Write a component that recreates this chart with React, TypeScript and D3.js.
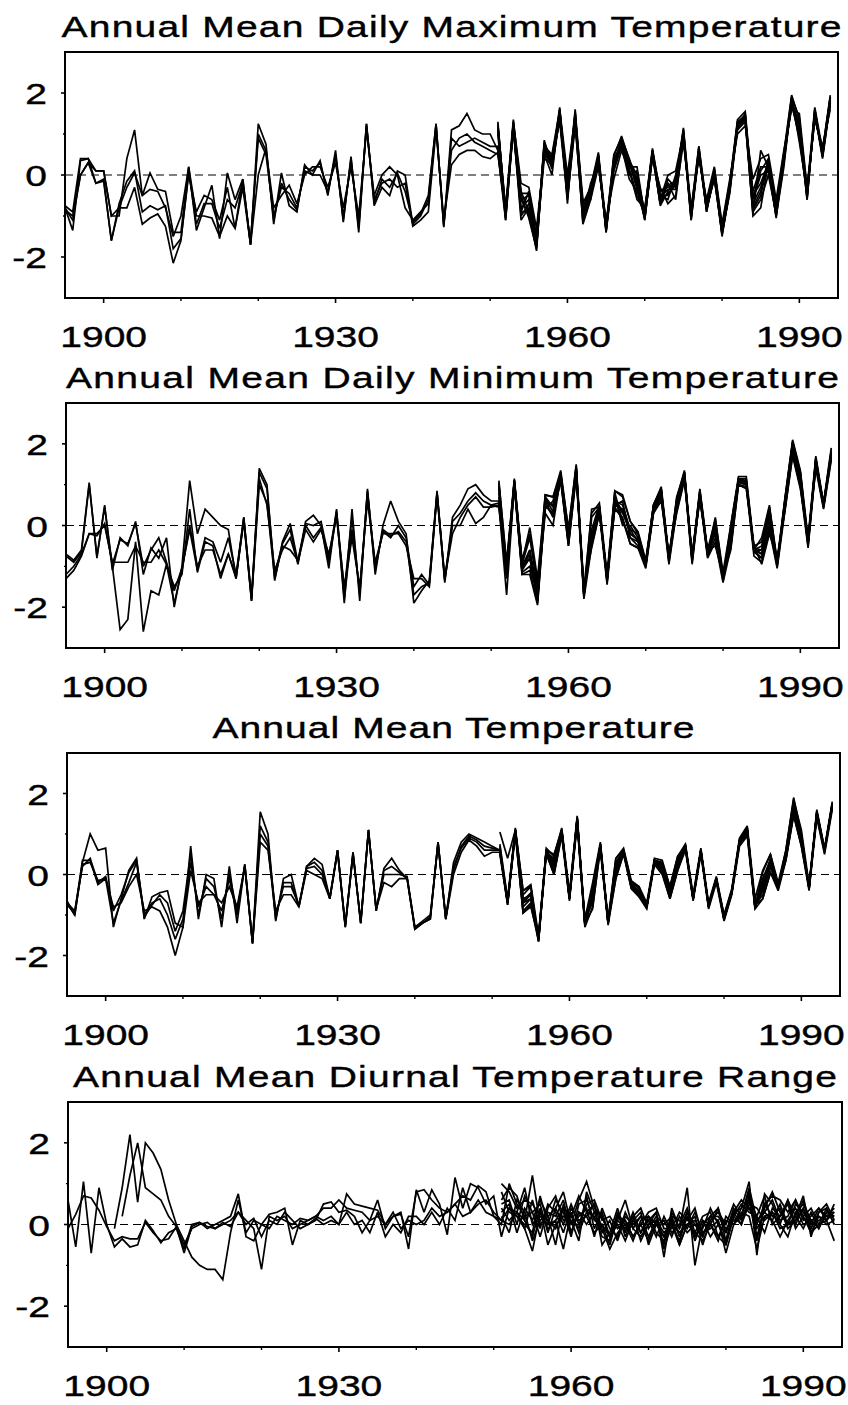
import * as d3 from "d3";

// years on the x axis
const FIRST_YEAR = 1895;
const LATE_START = 1951;
const X_DOMAIN = [1895, 1995];
const Y_DOMAIN = [-3, 3];
const X_TICKS = [1900, 1930, 1960, 1990];
const X_MINOR = [1910, 1920, 1940, 1950, 1970, 1980];
const Y_TICKS = [-2, 0, 2];
const Y_MINOR = [-1, 1];

const TITLES = [
  "Annual Mean Daily Maximum Temperature",
  "Annual Mean Daily Minimum Temperature",
  "Annual Mean Temperature",
  "Annual Mean Diurnal Temperature Range",
];

// ---- Daily maximum (1895-1994 long records, 1951-1994 short records)
const tmaxA = [
  -0.75, -0.9, 0.4, 0.4, 0.1, 0.1, -1.0, -1.0, 0.4, 1.1,
  -0.5, 0.05, -0.35, -0.4, -1.4, -1.4, 0.2, -1.35, -0.8, -0.25,
  -1.55, 0.05, -0.6, -0.1, -1.7, 1.25, 0.75, -1.2, 0.05, -0.75,
  -0.9, 0.25, 0.0, 0.35, -0.5, 0.6, -1.15, 0.45, -1.4, 1.25,
  -0.75, -0.3, -0.5, 0.1, 0.0, -1.2, -1.0, -0.6, 1.25, -1.25,
  1.1, 1.2, 1.5, 1.1, 1.0, 1.0, 0.6, -1.0, 1.3, -0.4,
  -0.9, -1.85, 0.8, 0.3, 1.65, -0.7, 1.55, -1.2, -0.6, 0.5,
  -1.4, 0.5, 0.9, 0.3, -0.1, -1.1, 0.6, -0.7, -0.1, -0.3,
  1.1, -1.1, 0.65, -0.9, 0.1, -1.5, -0.35, 1.3, 1.45, -1.0,
  -0.8, 0.3, -1.05, 0.5, 1.9, 1.4, -0.6, 1.6, 0.45, 1.85,
];
const tmaxB = [
  -0.8, -1.35, 0.35, 0.4, -0.2, -0.15, -1.6, -0.7, -0.15, 0.1,
  -0.9, -0.75, -0.85, -0.75, -1.8, -1.55, 0.0, -0.9, -0.5, -0.6,
  -1.1, -0.3, -1.3, -0.3, -1.7, 1.0, 0.6, -0.8, -0.5, -0.25,
  -0.7, 0.0, 0.2, 0.2, -0.3, 0.3, -0.8, 0.2, -1.0, 1.1,
  -0.5, 0.0, 0.2, 0.0, -0.8, -1.1, -0.9, -0.7, 1.2, -1.2,
  0.6, 0.9, 1.0, 0.8, 0.7, 0.6, 0.5, -0.9, 1.2, -0.9,
  -0.4, -1.5, 0.6, 0.45, 1.5, -0.4, 1.4, -0.9, -0.4, 0.35,
  -1.3, 0.2, 0.8, 0.15, -0.5, -0.95, 0.5, -0.5, -0.6, 0.0,
  0.9, -0.9, 0.5, -0.7, 0.0, -1.4, -0.2, 1.1, 1.3, -0.4,
  0.2, 0.2, -0.8, 0.4, 1.7, 1.0, -0.4, 1.4, 0.6, 1.7,
];
const tmaxC = [
  -0.85, -1.0, 0.0, 0.3, 0.1, 0.1, -1.0, -0.8, -0.8, -0.3,
  -1.2, -1.05, -0.95, -1.25, -2.15, -1.6, 0.1, -1.2, -0.7, -0.7,
  -1.3, -0.6, -0.8, -0.2, -1.65, 0.9, 0.5, -1.0, -0.3, -0.45,
  -0.8, 0.1, 0.0, 0.0, -0.4, 0.45, -1.0, 0.3, -1.2, 1.2,
  -0.6, -0.2, -0.1, -0.3, -0.2, -1.25, -1.1, -0.9, 1.1, -1.1,
  0.25, 0.5, 0.6, 0.6, 0.45, 0.4, 0.55, -1.1, 1.15, -1.1,
  -0.8, -1.6, 0.7, 0.15, 1.4, -0.5, 1.5, -1.0, -0.5, 0.3,
  -1.2, 0.1, 0.7, 0.0, 0.1, -1.05, 0.45, -0.4, -0.3, -0.2,
  1.0, -1.0, 0.6, -0.8, 0.15, -1.3, -0.3, 1.2, 1.5, -0.8,
  -0.4, 0.4, -0.9, 0.45, 1.8, 1.2, -0.5, 1.5, 0.5, 1.8,
];
const tmaxD = [
  -0.8, -1.1, 0.0, 0.3, -0.2, -0.1, -1.6, -0.8, -0.3, 0.05,
  -0.5, -0.35, -0.4, -0.8, -1.5, -1.0, 0.2, -1.0, -1.0, -1.05,
  -1.5, -1.0, -1.3, -0.1, -1.7, 0.0, 0.65, -1.1, -0.2, -0.6,
  -0.85, 0.2, 0.1, 0.3, -0.45, 0.5, -1.1, 0.4, -1.3, 1.25,
  -0.7, -0.1, -0.3, 0.05, -0.4, -1.15, -0.95, -0.5, 1.25, -1.27,
  0.9, 0.7, 0.8, 0.9, 0.8, 0.7, 0.7, -0.95, 1.25, -0.6,
  -1.0, -1.75, 0.85, 0.2, 1.55, -0.3, 1.3, -0.7, -0.3, 0.45,
  -1.35, 0.3, 0.85, 0.35, -0.3, -0.9, 0.6, -0.75, -0.4, -0.1,
  1.05, -0.95, 0.55, -0.85, -0.05, -1.45, -0.4, 1.25, 1.4, -0.6,
  0.0, 0.1, -1.0, 0.3, 1.75, 0.9, -0.45, 1.55, 0.55, 1.9,
];
const tmaxE = [
  1.3, -1.05, 1.3, -0.2, -0.3, -1.3, 0.5, 0.0, 1.6, 0.0,
  1.45, -0.6, -0.6, 0.2, -1.1, -0.1, 0.6, 0.1, -0.6, -0.8,
  0.4, -0.3, -0.7, -0.5, 0.8, -0.8, 0.4, -0.6, 0.2, -1.2,
  -0.1, 1.0, 1.2, -0.1, 0.4, 0.5, -0.6, 0.6, 1.6, 1.5,
  -0.3, 1.35, 0.7, 1.6,
];
const tmaxF = [
  1.2, -0.85, 1.1, -0.8, -0.6, -1.7, 0.75, 0.4, 1.3, -0.6,
  1.35, -1.1, -0.35, 0.4, -1.25, 0.35, 0.75, 0.2, 0.2, -1.0,
  0.55, -0.6, 0.0, 0.1, 1.0, -1.05, 0.6, -0.8, -0.1, -1.35,
  -0.3, 1.2, 1.35, -0.9, -0.6, 0.0, -0.95, 0.35, 1.85, 1.0,
  -0.55, 1.5, 0.4, 1.75,
];
const tmaxG = [
  1.1, -1.0, 1.2, -0.5, -1.05, -1.8, 0.65, 0.35, 1.5, -0.2,
  1.5, -0.85, -0.5, 0.5, -1.4, 0.2, 0.9, 0.4, -0.2, -1.1,
  0.5, -0.7, -0.2, -0.6, 0.9, -0.9, 0.7, -0.9, 0.05, -1.4,
  -0.45, 1.15, 1.45, -0.5, -0.2, 0.3, -0.7, 0.5, 1.7, 1.3,
  -0.5, 1.6, 0.5, 1.85,
];
const tmaxH = [
  1.25, -0.9, 1.25, -1.0, -0.7, -1.55, 0.4, 0.25, 1.45, -0.55,
  1.2, -1.0, -0.2, 0.3, -1.3, 0.4, 0.7, -0.1, -0.4, -0.85,
  0.65, -0.5, -0.5, -0.2, 1.1, -1.0, 0.5, -0.7, 0.0, -1.3,
  -0.2, 1.3, 1.3, -0.95, 0.6, 0.2, -1.0, 0.2, 1.9, 0.8,
  -0.4, 1.4, 0.6, 1.95,
];
const tmaxI = [
  1.15, -0.95, 1.2, -0.6, -0.5, -1.65, 0.6, 0.3, 1.55, -0.4,
  1.4, -0.95, -0.45, 0.45, -1.3, 0.3, 0.8, 0.25, -0.1, -1.0,
  0.55, -0.55, -0.35, -0.35, 1.0, -0.95, 0.55, -0.8, 0.05, -1.4,
  -0.3, 1.25, 1.4, -0.7, -0.3, 0.25, -0.85, 0.45, 1.8, 1.1,
  -0.5, 1.5, 0.5, 1.8,
];
const tmaxJ = [
  1.0, -1.1, 1.15, -0.9, -0.9, -1.75, 0.55, 0.2, 1.4, -0.45,
  1.3, -1.15, -0.55, 0.35, -1.35, 0.15, 0.85, 0.3, -0.35, -1.05,
  0.45, -0.65, -0.45, -0.25, 0.95, -1.1, 0.5, -0.85, -0.05, -1.45,
  -0.35, 1.15, 1.35, -0.85, -0.5, 0.35, -0.9, 0.4, 1.75, 1.2,
  -0.6, 1.55, 0.45, 1.75,
];
const tmaxK = [
  1.2, -0.8, 1.35, -0.45, -0.45, -1.6, 0.7, 0.5, 1.6, -0.35,
  1.6, -0.8, -0.3, 0.55, -1.2, 0.45, 0.95, 0.35, 0.0, -0.9,
  0.6, -0.4, -0.25, -0.15, 1.15, -0.85, 0.7, -0.7, 0.15, -1.25,
  -0.2, 1.35, 1.55, -0.55, 0.1, 0.4, -0.75, 0.55, 1.95, 1.35,
  -0.35, 1.65, 0.6, 1.9,
];

// ---- Daily minimum
const tminA = [
  -0.7, -0.85, -0.6, 1.05, -0.8, 0.5, -1.1, -0.3, -0.5, 0.1,
  -1.2, -0.55, -0.8, -0.3, -2.0, -1.0, 1.1, -0.2, 0.4, 0.2,
  0.0, -0.1, -1.3, 0.2, -1.85, 1.4, 1.0, -1.35, -0.4, 0.05,
  -0.9, 0.1, 0.25, 0.0, -1.05, 0.4, -1.9, 0.4, -1.85, 0.9,
  -1.2, 0.0, 0.6, 0.1, -0.2, -1.9, -1.6, -1.35, 0.85, -1.35,
  0.2, 0.5, 0.9, 1.0, 0.75, 0.6, 0.6, -1.0, 1.1, -0.9,
  -0.05, -1.3, 0.75, 0.7, 1.25, -0.1, 1.45, -1.75, 0.4, 0.45,
  -1.35, 0.85, 0.75, 0.1, -0.2, -0.95, 0.5, 0.9, -0.85, 0.7,
  1.3, -0.85, 0.85, -0.7, 0.2, -1.3, 0.0, 1.15, 1.1, -0.6,
  -0.3, 0.5, -0.95, 0.65, 2.05, 1.3, -0.45, 1.65, 0.5, 1.8,
];
const tminB = [
  -1.3, -1.1, -0.75, -0.2, -0.2, 0.0, -0.9, -0.9, -0.9, -0.5,
  -0.9, -0.9, -0.6, -0.95, -1.5, -1.2, 0.4, -1.15, -0.4, -0.5,
  -1.3, -0.7, -1.3, 0.15, -1.8, 1.15, 0.5, -1.1, -0.6, -0.3,
  -0.9, -0.1, -0.4, -0.1, -0.7, 0.2, -1.5, -0.3, -1.5, 0.6,
  -0.9, -0.2, -0.2, -0.2, -0.5, -1.3, -1.3, -1.5, 0.8, -1.3,
  -0.2, 0.2, 0.5, 0.7, 0.45, 0.45, 0.5, -1.7, 1.0, -1.2,
  -1.2, -1.95, 0.5, 0.3, 1.1, -0.5, 1.2, -1.5, -0.55, 0.3,
  -1.2, 0.4, 0.2, -0.45, -0.55, -0.9, 0.3, 0.6, -0.7, 0.3,
  1.1, -0.7, 0.6, -0.6, -0.5, -1.2, -0.6, 1.0, 0.9, -0.5,
  -0.95, -0.2, -0.8, 0.35, 1.7, 0.9, -0.3, 1.4, 0.4, 1.6,
];
const tminC = [
  -0.75, -0.9, -0.65, 1.0, -0.75, 0.45, -1.0, -2.55, -2.3, -0.4,
  -2.6, -1.6, -1.7, -0.95, -1.9, -1.1, 0.0, -1.0, -0.6, -0.6,
  -1.2, -0.7, -1.25, 0.1, -1.85, 1.0, 0.55, -1.3, -0.5, -0.6,
  -0.85, 0.0, -0.3, -0.05, -0.9, 0.3, -1.8, -0.1, -1.6, 0.8,
  -1.1, -0.1, -0.25, -0.15, -0.4, -1.7, -1.5, -1.4, 0.8, -1.3,
  0.0, 0.0, 0.4, 0.05, 0.2, 0.5, 0.55, -1.2, 1.05, -1.05,
  -0.6, -1.6, 0.3, 0.0, 1.2, -0.4, 1.3, -1.6, -0.3, 0.4,
  -1.3, 0.5, 0.4, -0.2, -0.35, -1.0, 0.4, 0.7, -0.75, 0.5,
  1.2, -0.8, 0.75, -0.65, -0.2, -1.25, -0.3, 1.1, 1.0, -0.55,
  -0.6, 0.1, -0.9, 0.5, 1.9, 1.1, -0.4, 1.5, 0.45, 1.7,
];
const tminD = [
  -1.2, -1.0, -0.7, -0.2, -0.25, 0.05, -0.95, -0.35, -0.45, 0.05,
  -1.0, -0.6, -0.3, -0.9, -1.6, -1.05, -0.1, -1.1, -0.3, -0.4,
  -0.9, -0.3, -1.2, 0.2, -1.75, 1.3, 0.9, -1.2, -0.45, -0.1,
  -0.95, 0.05, 0.0, 0.1, -0.8, 0.35, -1.6, 0.2, -1.7, 0.85,
  -1.0, -0.15, -0.3, 0.0, -0.3, -1.5, -1.2, -1.45, 0.75, -1.4,
  0.1, 0.3, 0.6, 0.8, 0.6, 0.5, 0.45, -1.1, 1.1, -1.0,
  -0.8, -1.8, 0.6, 0.5, 1.2, -0.3, 1.4, -1.7, -0.4, 0.35,
  -1.3, 0.6, 0.5, -0.1, -0.4, -0.9, 0.45, 0.8, -0.8, 0.6,
  1.25, -0.75, 0.8, -0.7, -0.1, -1.3, -0.2, 1.1, 1.05, -0.6,
  -0.8, 0.3, -0.9, 0.55, 2.0, 1.2, -0.45, 1.6, 0.5, 1.75,
];
const tminE = [
  1.1, -1.0, 1.1, -0.95, -0.3, -1.5, 0.4, 0.6, 1.3, -0.3,
  1.45, -1.7, -0.1, 0.5, -1.35, 0.7, 0.0, 0.0, -0.3, -0.95,
  0.4, 0.85, -0.8, 0.5, 1.3, -0.8, 0.7, -0.7, 0.0, -1.25,
  -0.1, 1.15, 1.15, -0.6, -0.5, 0.4, -0.95, 0.6, 2.0, 1.3,
  -0.4, 1.6, 0.5, 1.85,
];
const tminF = [
  0.8, -1.2, 1.0, -1.1, -0.8, -1.7, 0.6, 0.2, 1.2, -0.45,
  1.35, -1.6, -0.4, 0.4, -1.3, 0.5, 0.6, -0.3, -0.5, -1.0,
  0.35, 0.75, -0.9, 0.4, 1.2, -0.9, 0.75, -0.75, -0.3, -1.35,
  -0.4, 1.05, 1.0, -0.65, -0.8, 0.0, -1.0, 0.45, 1.8, 1.0,
  -0.5, 1.5, 0.55, 1.75,
];
const tminG = [
  0.9, -1.1, 1.1, -1.0, -0.6, -1.85, 0.7, 0.45, 1.25, -0.2,
  1.4, -1.75, 0.2, 0.45, -1.4, 0.6, 0.3, -0.1, -0.2, -0.9,
  0.5, 0.9, -0.85, 0.6, 1.3, -0.85, 0.8, -0.7, 0.1, -1.3,
  -0.3, 1.15, 1.05, -0.55, -0.7, 0.2, -0.95, 0.6, 2.05, 1.2,
  -0.45, 1.65, 0.45, 1.8,
];
const tminH = [
  1.0, -1.3, 1.05, -1.15, -1.0, -1.7, 0.55, 0.5, 1.15, -0.4,
  1.3, -1.65, -0.2, 0.35, -1.25, 0.8, 0.1, -0.3, -0.4, -0.95,
  0.45, 0.8, -0.8, 0.45, 1.25, -0.8, 0.85, -0.65, -0.1, -1.2,
  -0.5, 1.1, 1.1, -0.65, -0.6, 0.3, -0.9, 0.4, 1.9, 1.15,
  -0.35, 1.55, 0.55, 1.7,
];
const tminI = [
  0.95, -1.15, 1.0, -1.05, -0.7, -1.75, 0.65, 0.35, 1.2, -0.3,
  1.4, -1.7, -0.25, 0.4, -1.35, 0.65, 0.35, -0.2, -0.35, -0.95,
  0.4, 0.85, -0.85, 0.55, 1.25, -0.85, 0.8, -0.7, -0.15, -1.3,
  -0.35, 1.1, 1.05, -0.6, -0.7, 0.15, -0.95, 0.5, 1.95, 1.2,
  -0.45, 1.6, 0.5, 1.75,
];
const tminJ = [
  0.7, -1.25, 0.95, -1.2, -1.1, -1.9, 0.5, 0.25, 1.1, -0.5,
  1.25, -1.8, -0.5, 0.3, -1.45, 0.45, 0.15, -0.45, -0.55, -1.05,
  0.3, 0.7, -0.95, 0.35, 1.15, -0.95, 0.7, -0.8, -0.4, -1.4,
  -0.55, 1.0, 0.95, -0.75, -0.9, -0.1, -1.05, 0.35, 1.75, 0.95,
  -0.55, 1.45, 0.45, 1.65,
];
const tminK = [
  1.05, -0.9, 1.15, -0.85, -0.2, -1.45, 0.75, 0.7, 1.35, -0.1,
  1.5, -1.55, 0.3, 0.55, -1.2, 0.85, 0.7, 0.1, -0.15, -0.85,
  0.5, 0.95, -0.75, 0.65, 1.35, -0.75, 0.9, -0.6, 0.15, -1.15,
  0.0, 1.2, 1.2, -0.5, -0.4, 0.45, -0.85, 0.65, 2.1, 1.35,
  -0.3, 1.7, 0.55, 1.9,
];

// ---- Mean temperature
const tavgA = [
  -0.7, -1.0, 0.3, 1.0, 0.6, 0.65, -1.3, -0.6, 0.1, 0.4,
  -1.1, -0.55, -0.45, -0.4, -1.2, -1.3, 0.7, -1.1, 0.0, -0.1,
  -1.3, 0.2, -1.2, 0.25, -1.7, 1.55, 1.0, -1.15, -0.1, 0.0,
  -0.8, 0.2, 0.4, 0.25, -0.6, 0.6, -1.3, 0.55, -1.2, 1.1,
  -0.9, 0.15, 0.4, 0.1, -0.1, -1.35, -1.2, -1.1, 0.8, -1.1,
  0.3, 0.8, 1.0, 0.9, 0.8, 0.7, 0.6, -0.7, 1.1, -0.4,
  -0.3, -1.65, 0.6, 0.5, 1.1, -0.6, 1.4, -1.25, -0.3, 0.75,
  -1.2, 0.4, 0.6, -0.2, -0.3, -0.8, 0.35, 0.3, -0.3, 0.45,
  0.7, -0.6, 0.6, -0.8, -0.1, -1.1, -0.45, 0.85, 1.15, -0.8,
  0.05, 0.5, -0.3, 0.6, 1.9, 1.0, -0.35, 1.55, 0.6, 1.75,
];
const tavgB = [
  -0.75, -0.95, 0.35, 0.35, -0.25, -0.1, -0.8, -0.7, -0.3, 0.0,
  -0.9, -0.8, -0.9, -1.3, -2.0, -1.3, 0.1, -0.7, -0.5, -0.5,
  -0.7, -0.3, -0.8, 0.2, -1.7, 0.8, 0.6, -0.9, -0.5, -0.5,
  -0.8, 0.1, 0.0, -0.1, -0.6, 0.55, -1.25, 0.5, -1.2, 1.05,
  -0.85, -0.2, -0.3, -0.1, -0.1, -1.3, -1.15, -1.0, 0.75, -1.1,
  0.0, 0.55, 0.85, 0.7, 0.45, 0.55, 0.55, -0.65, 1.05, -0.95,
  -0.8, -1.55, 0.55, 0.0, 1.0, -0.55, 1.35, -1.2, -0.85, 0.7,
  -1.15, -0.1, 0.55, -0.35, -0.55, -0.8, 0.3, 0.05, -0.6, 0.1,
  0.7, -0.6, 0.55, -0.75, -0.1, -1.05, -0.4, 0.8, 1.05, -0.75,
  -0.6, 0.05, -0.3, 0.35, 1.5, 0.7, -0.3, 1.5, 0.6, 1.7,
];
const tavgC = [
  -0.7, -0.9, 0.2, 0.4, -0.2, -0.05, -0.9, -0.5, 0.05, 0.35,
  -1.0, -0.7, -0.6, -1.0, -1.6, -1.1, 0.3, -0.8, -0.3, -0.5,
  -0.9, -0.1, -1.0, 0.25, -1.65, 1.2, 0.8, -1.0, -0.3, -0.3,
  -0.75, 0.15, 0.2, 0.0, -0.55, 0.6, -1.3, 0.5, -1.15, 1.1,
  -0.85, 0.0, 0.0, 0.0, -0.05, -1.3, -1.2, -1.05, 0.8, -1.05,
  0.2, 0.65, 0.9, 0.8, 0.6, 0.6, 0.6, -0.7, 1.1, -0.7,
  -0.6, -1.6, 0.6, 0.3, 1.05, -0.6, 1.4, -1.2, -0.6, 0.7,
  -1.2, 0.1, 0.6, -0.25, -0.4, -0.8, 0.35, 0.2, -0.45, 0.3,
  0.75, -0.6, 0.6, -0.8, -0.1, -1.1, -0.45, 0.85, 1.1, -0.8,
  -0.3, 0.3, -0.3, 0.45, 1.7, 0.85, -0.35, 1.55, 0.6, 1.75,
];
const tavgD = [
  -0.65, -1.0, 0.25, 0.3, -0.15, -0.1, -1.2, -0.65, -0.2, 0.3,
  -1.05, -0.75, -0.5, -0.7, -1.4, -0.9, 0.5, -1.0, -0.1, -0.3,
  -1.1, 0.0, -0.9, 0.2, -1.7, 1.0, 0.7, -1.1, -0.2, -0.2,
  -0.8, 0.2, 0.3, 0.1, -0.6, 0.6, -1.25, 0.55, -1.2, 1.1,
  -0.9, 0.1, 0.2, 0.05, -0.1, -1.35, -1.2, -1.1, 0.8, -1.1,
  0.1, 0.7, 0.95, 0.85, 0.7, 0.65, 0.6, -0.7, 1.1, -0.6,
  -0.5, -1.65, 0.6, 0.2, 1.1, -0.6, 1.4, -1.25, -0.5, 0.75,
  -1.2, 0.2, 0.6, -0.3, -0.5, -0.8, 0.35, 0.1, -0.5, 0.2,
  0.7, -0.6, 0.6, -0.8, -0.1, -1.1, -0.45, 0.8, 1.1, -0.8,
  -0.4, 0.2, -0.35, 0.4, 1.6, 0.8, -0.35, 1.5, 0.6, 1.7,
];
const tavgE = [
  1.05, 0.4, 1.1, -0.7, -0.5, -1.6, 0.6, 0.1, 1.05, -0.55,
  1.35, -1.2, -0.4, 0.7, -1.15, 0.3, 0.6, -0.3, -0.4, -0.8,
  0.35, 0.25, -0.55, 0.2, 0.7, -0.6, 0.6, -0.8, -0.1, -1.1,
  -0.45, 0.8, 1.1, -0.75, -0.5, 0.2, -0.3, 0.5, 1.7, 0.9,
  -0.3, 1.5, 0.6, 1.7,
];
const tavgF = [
  0.6, -0.7, 1.05, -0.9, -0.7, -1.5, 0.55, 0.4, 1.1, -0.6,
  1.3, -1.1, -0.7, 0.75, -1.2, 0.0, 0.55, -0.25, -0.5, -0.75,
  0.3, 0.15, -0.4, 0.35, 0.65, -0.55, 0.55, -0.75, -0.15, -1.0,
  -0.4, 0.75, 1.0, -0.8, -0.2, 0.4, -0.25, 0.4, 1.5, 0.75,
  -0.3, 1.45, 0.55, 1.65,
];
const tavgG = [
  0.65, -0.75, 1.1, -0.5, -0.3, -1.6, 0.6, 0.2, 1.1, -0.6,
  1.4, -1.25, -0.3, 0.7, -1.2, 0.2, 0.6, -0.2, -0.35, -0.8,
  0.35, 0.3, -0.35, 0.4, 0.7, -0.6, 0.6, -0.8, -0.1, -1.1,
  -0.45, 0.85, 1.15, -0.8, -0.1, 0.35, -0.3, 0.55, 1.8, 1.0,
  -0.35, 1.55, 0.6, 1.75,
];
const tavgH = [
  0.55, -0.7, 1.05, -0.8, -0.6, -1.55, 0.5, 0.35, 1.0, -0.5,
  1.3, -1.2, -0.5, 0.65, -1.15, 0.25, 0.55, -0.3, -0.45, -0.75,
  0.3, 0.2, -0.5, 0.3, 0.65, -0.55, 0.55, -0.75, -0.1, -1.05,
  -0.4, 0.8, 1.1, -0.7, -0.3, 0.25, -0.3, 0.45, 1.6, 0.85,
  -0.3, 1.5, 0.6, 1.7,
];
const tavgI = [
  0.7, -0.65, 1.1, -0.65, -0.45, -1.6, 0.6, 0.3, 1.1, -0.55,
  1.4, -1.2, -0.5, 0.7, -1.2, 0.15, 0.6, -0.25, -0.4, -0.8,
  0.35, 0.25, -0.45, 0.3, 0.7, -0.6, 0.6, -0.8, -0.1, -1.1,
  -0.45, 0.85, 1.1, -0.75, -0.35, 0.3, -0.3, 0.5, 1.75, 0.95,
  -0.35, 1.55, 0.6, 1.75,
];
const tavgJ = [
  0.5, -0.75, 1.0, -0.95, -0.75, -1.65, 0.5, 0.0, 0.95, -0.65,
  1.25, -1.3, -0.8, 0.6, -1.25, -0.1, 0.5, -0.35, -0.55, -0.85,
  0.25, 0.0, -0.6, 0.1, 0.6, -0.65, 0.5, -0.85, -0.2, -1.15,
  -0.5, 0.7, 0.95, -0.85, -0.6, 0.05, -0.4, 0.35, 1.45, 0.7,
  -0.4, 1.4, 0.5, 1.6,
];
const tavgK = [
  0.75, -0.6, 1.15, -0.4, -0.25, -1.5, 0.65, 0.45, 1.15, -0.45,
  1.45, -1.1, -0.2, 0.8, -1.1, 0.4, 0.65, -0.15, -0.3, -0.7,
  0.4, 0.35, -0.3, 0.45, 0.75, -0.5, 0.65, -0.7, -0.05, -1.0,
  -0.35, 0.9, 1.2, -0.6, 0.1, 0.5, -0.2, 0.6, 1.85, 1.1,
  -0.25, 1.6, 0.65, 1.8,
];

// ---- Diurnal range (A, B from 1895; C from 1901; D from 1902; E-K from 1951)
const dtrA = [
  0.6, -0.55, 1.05, -0.7, 0.9, 0.0, -0.55, -0.35, -0.55, -0.5,
  0.1, -0.15, -0.45, -0.2, -0.1, -0.6, 0.0, 0.05, -0.1, 0.0,
  0.1, 0.2, 0.75, -0.3, -0.4, 0.0, 0.25, 0.3, 0.4, -0.5,
  0.1, 0.0, 0.1, 0.5, 0.55, 0.3, 0.35, 0.2, -0.2, 0.1,
  0.6, -0.1, 0.2, 0.3, -0.6, 0.85, 0.3, 0.85, 0.5, -0.25,
  1.15, 0.4, 1.0, 0.9, 0.5, 0.7, -0.3, 0.4, 0.3, 0.1,
  1.2, 0.0, 0.2, 0.4, 0.8, 0.0, 0.6, 1.05, 0.4, 0.2,
  -0.3, 0.1, 0.6, -0.1, 0.2, 0.1, 0.3, -0.8, 0.4, -0.1,
  0.9, -1.0, 0.0, 0.2, 0.4, -0.4, 0.3, 0.4, 1.05, -0.75,
  0.75, 0.5, 0.0, 0.6, 0.2, 0.7, -0.3, 0.3, 0.4, 0.0,
];
const dtrB = [
  -0.1, 0.25, 0.7, 0.65, 0.35, -0.05, -0.4, -0.3, -0.35, -0.35,
  0.05, -0.2, -0.4, -0.35, -0.05, -0.5, -0.1, 0.0, 0.05, -0.1,
  0.05, -0.05, 0.3, 0.1, -0.1, -1.1, 0.2, 0.1, 0.2, -0.1,
  0.0, 0.1, 0.2, 0.1, 0.2, 0.0, 0.75, 0.5, 0.45, 0.4,
  0.35, 0.0, 0.3, -0.1, 0.1, 0.0, 0.1, 0.4, 0.2, 0.3,
  0.5, 0.2, 0.3, 0.6, 0.3, 0.2, 0.1, 0.0, 0.3, -0.1,
  -0.65, 0.3, -0.1, 0.1, -0.6, 0.3, -0.2, 0.3, 0.5, -0.1,
  -0.6, -0.2, 0.0, 0.1, -0.2, 0.2, 0.0, -0.3, 0.1, -0.5,
  0.0, 0.1, -0.2, -0.1, 0.1, -0.7, 0.0, 0.2, 0.4, 0.1,
  0.3, 0.1, -0.3, 0.1, 0.4, 0.0, 0.1, -0.1, 0.3, 0.2,
];
const dtrC = [
  -0.1, 0.9, 2.2, 0.55, 2.0, 1.75, 1.35, 0.6, 0.0, -0.4,
  -0.8, -1.0, -1.1, -1.1, -1.35, -0.2, 0.6, -0.2, 0.1, 0.0,
  -0.1, 0.2, 0.1, 0.0, 0.15, 0.1, 0.2, 0.4, 0.4, 0.6,
  0.4, 0.35, 0.3, 0.1, 0.2, 0.0, 0.2, 0.25, -0.3, 0.8,
  0.85, 0.6, 0.4, 0.3, 0.5, 0.7, 0.6, 0.95, 0.8, 0.2,
  0.0, 1.0, 0.5, 0.2, 0.3, -0.3, 0.4, 0.7, 0.1, 0.2,
  0.7, 0.3, 0.2, -0.3, -0.4, 0.3, -0.3, 0.2, 0.4, -0.1,
  0.2, 0.0, 0.2, -0.3, 0.3, 0.0, -0.1, 0.4, 0.0, -0.2,
  0.3, 0.6, 0.4, 0.0, 0.5, 0.7, 0.6, 0.3, 0.6, 0.2,
  0.4, 0.0, 0.1, -0.4,
];
const dtrD = [
  0.2, 1.2, 2.0, 0.9, 0.75, 0.6, 0.2, -0.05, -0.7, -0.05,
  0.05, -0.05, -0.1, 0.0, 0.1, 0.3, 0.0, 0.15, -0.3, 0.1,
  0.0, 0.3, 0.1, -0.1, 0.0, 0.15, 0.0, 0.1, 0.0, 0.3,
  0.0, 0.1, -0.2, 0.3, -0.3, 0.0, -0.2, 0.2, 0.2, 0.0,
  0.3, 0.0, 0.4, 0.1, 0.9, 0.3, 0.5, 0.6, 0.3, 0.1,
  0.4, 0.2, 0.0, -0.2, 0.7, 0.0, 0.1, 0.4, -0.2, 0.3,
  0.2, -0.2, 0.0, -0.3, 0.2, 0.1, -0.3, 0.0, -0.4, 0.1,
  -0.2, 0.0, -0.5, 0.0, -0.2, -0.4, 0.0, -0.3, -0.5, 0.2,
  0.0, 0.7, -0.1, 0.2, 0.3, -0.1, 0.0, 0.1, 0.4, -0.2,
  0.2, 0.1, 0.3,
];
const dtrE = [
  1.0, 0.8, 0.4, 0.6, 0.5, 0.2, 0.0, 0.6, 0.3, -0.3,
  0.5, 0.6, 0.1, 0.0, -0.5, 0.2, 0.0, -0.4, 0.1, 0.2,
  -0.2, -0.4, 0.1, -0.2, 0.0, 0.2, -0.5, 0.1, 0.3, 0.0,
  0.5, 0.2, 0.8, -0.3, 0.4, 0.8, 0.3, 0.0, 0.5, 0.3,
  0.0, 0.4, 0.2, 0.4,
];
const dtrF = [
  0.6, 0.9, 0.7, 0.1, -0.3, 0.4, -0.5, 0.0, 0.2, 0.1,
  -0.4, 0.8, 0.3, 0.2, -0.3, 0.0, -0.4, 0.1, 0.3, -0.5,
  0.0, 0.1, -0.3, 0.2, -0.1, 0.3, -0.2, 0.0, -0.4, 0.2,
  0.0, 0.4, 0.6, 0.2, 0.7, 0.0, 0.2, 0.5, -0.1, 0.2,
  -0.2, 0.0, 0.4, 0.0,
];
const dtrG = [
  0.3, 0.5, -0.2, 0.4, 0.1, 0.6, 0.2, -0.5, 0.5, 0.0,
  0.2, 0.4, -0.3, 0.4, -0.1, -0.3, 0.3, -0.1, -0.3, 0.0,
  0.3, -0.6, 0.0, -0.4, 0.2, -0.3, 0.1, -0.3, 0.0, -0.4,
  0.3, 0.0, 0.5, 0.4, 0.1, 0.3, 0.0, -0.3, 0.3, 0.5,
  0.1, 0.2, 0.0, 0.1,
];
const dtrH = [
  0.8, 0.3, 0.2, -0.1, 0.6, -0.1, 0.5, 0.3, -0.2, 0.4,
  0.1, 0.2, 0.5, -0.5, -0.2, 0.4, -0.2, 0.3, -0.2, 0.1,
  -0.3, 0.2, -0.2, 0.0, 0.4, -0.2, 0.2, 0.3, -0.3, 0.1,
  0.0, 0.3, 0.2, -0.6, 0.2, 0.1, 0.5, 0.0, 0.2, -0.1,
  0.3, -0.1, 0.3, 0.3,
];
const dtrI = [
  0.2, -0.2, 0.6, 0.3, -0.4, 0.1, 0.3, 0.2, 0.6, -0.2,
  0.3, 0.0, 0.3, -0.2, 0.1, -0.4, 0.2, 0.0, 0.2, -0.3,
  0.1, -0.3, 0.2, 0.1, -0.2, 0.0, -0.3, 0.2, 0.1, -0.5,
  0.2, 0.5, 0.3, 0.2, -0.2, 0.4, 0.2, 0.6, 0.0, 0.4,
  -0.1, 0.3, 0.5, 0.1,
];
const dtrJ = [
  0.5, 0.6, 0.0, 0.7, 0.3, 0.5, -0.2, 0.4, 0.0, 0.5,
  0.0, 0.5, 0.6, 0.1, 0.2, -0.1, 0.1, -0.3, 0.0, 0.3,
  0.4, -0.1, -0.1, 0.3, 0.1, 0.4, -0.3, 0.2, 0.2, -0.1,
  0.1, 0.2, 0.9, 0.1, 0.3, 0.6, 0.1, 0.2, 0.6, 0.1,
  0.2, 0.4, 0.1, 0.5,
];
const dtrK = [
  0.4, 0.1, 0.3, 0.9, 0.0, 0.3, 0.1, -0.1, 0.4, 0.2,
  -0.1, 0.7, -0.1, 0.3, -0.3, 0.1, -0.1, 0.2, -0.4, 0.0,
  0.1, -0.5, 0.3, -0.1, 0.3, -0.4, 0.1, 0.0, 0.4, -0.2,
  0.4, 0.1, 0.6, -0.4, 0.5, 0.2, 0.4, -0.1, 0.1, 0.6,
  0.0, 0.1, 0.2, 0.2,
];

type Series = { start: number; values: number[] };

const early = (list: number[][]): Series[] => list.map((v) => ({ start: FIRST_YEAR, values: v }));
const late = (list: number[][]): Series[] => list.map((v) => ({ start: LATE_START, values: v }));

const SERIES: Series[][] = [
  early([tmaxA, tmaxB, tmaxC, tmaxD]).concat(late([tmaxE, tmaxF, tmaxG, tmaxH, tmaxI, tmaxJ, tmaxK])),
  early([tminA, tminB, tminC, tminD]).concat(late([tminE, tminF, tminG, tminH, tminI, tminJ, tminK])),
  early([tavgA, tavgB, tavgC, tavgD]).concat(late([tavgE, tavgF, tavgG, tavgH, tavgI, tavgJ, tavgK])),
  early([dtrA, dtrB])
    .concat([{ start: 1901, values: dtrC }, { start: 1902, values: dtrD }])
    .concat(late([dtrE, dtrF, dtrG, dtrH, dtrI, dtrJ, dtrK])),
];

// frame boxes and title widths in page pixels
const LAYOUT = [
  { left: 65, right: 838, top: 52, bottom: 298, titleW: 780 },
  { left: 66, right: 839, top: 403, bottom: 648, titleW: 773 },
  { left: 67, right: 840, top: 753, bottom: 996, titleW: 482 },
  { left: 68, right: 842, top: 1102, bottom: 1347, titleW: 764 },
];

const FONT = "'Liberation Sans', Arial, Helvetica, sans-serif";
const STRETCH = 1.3;

function Panel({ idx }: { idx: number }) {
  const box = LAYOUT[idx];
  const x = d3.scaleLinear().domain(X_DOMAIN).range([box.left, box.right]);
  const y = d3.scaleLinear().domain(Y_DOMAIN).range([box.bottom, box.top]);
  const line = d3
    .line<[number, number]>()
    .x((d) => x(d[0]))
    .y((d) => y(d[1]));
  const cx = (box.left + box.right) / 2;
  const textProps = { fontSize: 30, fontFamily: FONT, stroke: "#000", strokeWidth: 0.4 };

  return (
    <g>
      <text
        transform={`translate(${cx},${box.top - 15}) scale(${STRETCH},1)`}
        textAnchor="middle"
        textLength={box.titleW / STRETCH}
        lengthAdjust="spacing"
        {...textProps}
      >
        {TITLES[idx]}
      </text>

      <line
        x1={box.left}
        x2={box.right}
        y1={y(0)}
        y2={y(0)}
        stroke="#000"
        strokeWidth={1.1}
        strokeDasharray="8,5"
      />

      {SERIES[idx].map((s, i) => (
        <path
          key={i}
          d={line(s.values.map((v, k) => [s.start + k, v] as [number, number])) || ""}
          fill="none"
          stroke="#000"
          strokeWidth={1.7}
          strokeMiterlimit={3}
        />
      ))}

      <rect
        x={box.left}
        y={box.top}
        width={box.right - box.left}
        height={box.bottom - box.top}
        fill="none"
        stroke="#000"
        strokeWidth={2}
      />

      {X_TICKS.map((t) => (
        <g key={t}>
          <line x1={x(t)} x2={x(t)} y1={box.bottom} y2={box.bottom + 5} stroke="#000" strokeWidth={1.6} />
          <text
            transform={`translate(${x(t)},${box.bottom + 49}) scale(${STRETCH},1)`}
            textAnchor="middle"
            {...textProps}
          >
            {t}
          </text>
        </g>
      ))}
      {X_MINOR.map((t) => (
        <line key={t} x1={x(t)} x2={x(t)} y1={box.bottom} y2={box.bottom + 3} stroke="#000" strokeWidth={1.4} />
      ))}

      {Y_TICKS.map((t) => (
        <g key={t}>
          <line x1={box.left - 4} x2={box.left} y1={y(t)} y2={y(t)} stroke="#000" strokeWidth={1.6} />
          <text
            transform={`translate(${box.left - 18},${y(t) + 11}) scale(${STRETCH},1)`}
            textAnchor="end"
            {...textProps}
          >
            {t}
          </text>
        </g>
      ))}
      {Y_MINOR.map((t) => (
        <line key={t} x1={box.left - 2} x2={box.left} y1={y(t)} y2={y(t)} stroke="#000" strokeWidth={1.4} />
      ))}
    </g>
  );
}

export default function App() {
  return (
    <svg
      width={848}
      height={1405}
      style={{ position: "absolute", left: 0, top: 0, background: "#fff" }}
    >
      {LAYOUT.map((_, i) => (
        <Panel key={i} idx={i} />
      ))}
    </svg>
  );
}
